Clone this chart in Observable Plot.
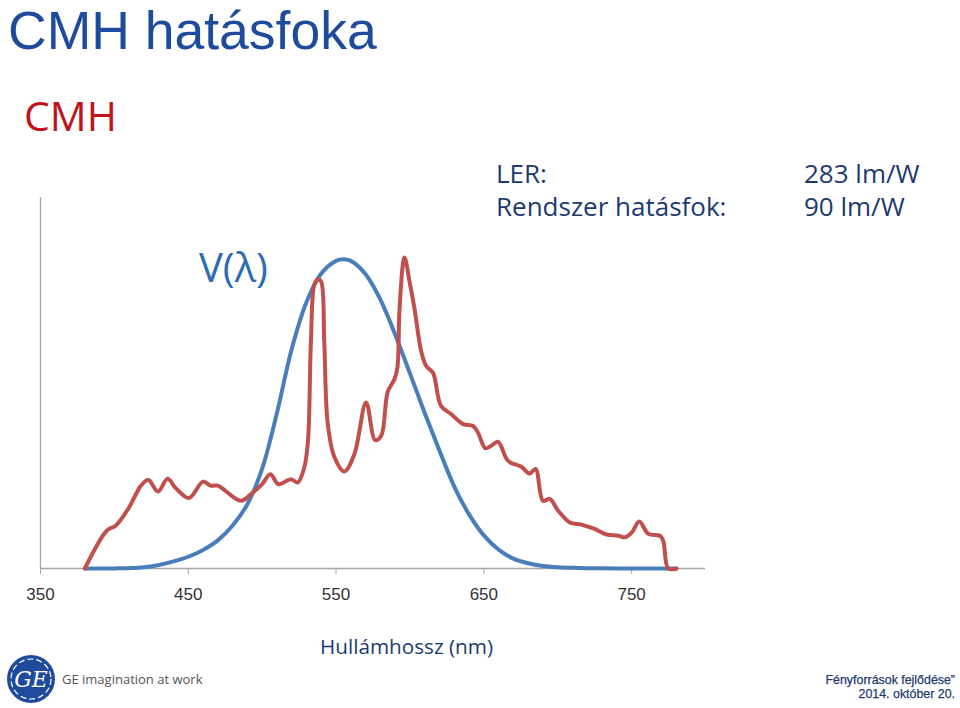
<!DOCTYPE html>
<html>
<head>
<meta charset="utf-8">
<script src="https://cdn.jsdelivr.net/npm/d3@7"></script>
<script src="https://cdn.jsdelivr.net/npm/@observablehq/plot@0.6"></script>
<style>
  html, body { margin: 0; padding: 0; background: #fff; }
  #page { position: relative; width: 960px; height: 708px; overflow: hidden; font-family: "Open Sans", "Noto Sans", sans-serif; }
  #chart { position: absolute; left: 0; top: 180px; }
  #overlay { position: absolute; left: 0; top: 0; }
</style>
</head>
<body>
<div id="page">
  <div id="chart"></div>
  <svg id="overlay" width="960" height="708" font-family="'Open Sans', 'Noto Sans', sans-serif">
    <text x="8" y="49" font-size="53.5" fill="#1f4b9c" font-family="'Liberation Sans', Arial, sans-serif">CMH hatásfoka</text>
    <text x="24" y="131" font-size="41" fill="#c0141c">CMH</text>
    <text x="496" y="183" font-size="26" fill="#1c3a70">LER:</text>
    <text x="496" y="216" font-size="26" fill="#1c3a70">Rendszer hatásfok:</text>
    <text x="804" y="183" font-size="26" fill="#1c3a70">283 lm/W</text>
    <text x="804" y="216" font-size="26" fill="#1c3a70">90 lm/W</text>
    <text x="199" y="282" font-size="40" fill="#2b6cb5">V(λ)</text>
    <text x="320" y="654" font-size="20.7" fill="#1c3a70">Hullámhossz (nm)</text>
    <g>
      <circle cx="31" cy="679" r="24" fill="#1f4b9c"/>
      <circle cx="31" cy="679" r="20" fill="none" stroke="#fff" stroke-width="1.2" stroke-dasharray="6 3"/>
      <text x="31" y="687" font-size="22" fill="#fff" text-anchor="middle" font-style="italic" font-family="'DejaVu Serif', serif">GE</text>
    </g>
    <text x="62" y="684" font-size="13" fill="#555">GE imagination at work</text>
    <g font-family="'Liberation Sans', Arial, sans-serif" font-size="12.4" fill="#1c3a70" text-anchor="end" stroke="#1c3a70" stroke-width="0.25">
      <text x="955" y="684">Fényforrások fejlődése”</text>
      <text x="955" y="698">2014. október 20.</text>
    </g>
  </svg>
</div>
<script>
// Wavelength ticks (nm)
const xTicks = [350, 450, 550, 650, 750];

// CMH lamp spectrum (red), relative units
const cmhLambda = [380, 395, 401, 410, 418, 423, 429.5, 436, 441.5, 450.5, 460, 465, 470, 485.5, 492.5, 500, 505.5, 511, 519.5, 524, 528.5, 531, 533, 535.3, 537.6, 539.8, 542, 544.4, 549, 555.6, 562.4, 570.3, 576.5, 580.5, 585, 589.5, 591.5, 593, 596.3, 599.7, 603, 607.6, 611, 615.6, 621, 628, 636, 642.7, 646, 651, 655, 659.6, 666.4, 675.4, 681, 685, 690, 694.6, 700.3, 708.2, 716, 725, 733, 741, 745.5, 750.2, 755.2, 761.3, 769.2, 771.4, 774.8, 780.5];
const cmhValue  = [0, 0.123, 0.139, 0.198, 0.268, 0.286, 0.249, 0.290, 0.260, 0.228, 0.281, 0.268, 0.268, 0.219, 0.241, 0.273, 0.305, 0.273, 0.289, 0.278, 0.327, 0.413, 0.735, 0.918, 0.935, 0.929, 0.735, 0.467, 0.359, 0.314, 0.370, 0.537, 0.415, 0.429, 0.572, 0.612, 0.649, 0.843, 1.006, 0.929, 0.843, 0.703, 0.655, 0.633, 0.526, 0.499, 0.467, 0.461, 0.440, 0.389, 0.397, 0.410, 0.348, 0.329, 0.307, 0.322, 0.219, 0.225, 0.187, 0.149, 0.142, 0.128, 0.110, 0.106, 0.101, 0.117, 0.152, 0.112, 0.106, 0.090, 0.0, 0.0];

// V(λ) eye sensitivity curve (blue)
const vLambda = [380, 390, 400, 410, 420, 430, 440, 450, 460, 470, 480, 490, 500, 510, 520, 530, 540, 550, 555, 560, 570, 580, 590, 600, 610, 620, 630, 640, 650, 660, 670, 680, 690, 700, 710, 720, 730, 740, 750, 760, 770, 780];
const vValue  = [0.00004, 0.00012, 0.0004, 0.0012, 0.004, 0.0116, 0.023, 0.038, 0.060, 0.091, 0.139, 0.208, 0.323, 0.503, 0.710, 0.862, 0.954, 0.995, 1.0, 0.995, 0.952, 0.870, 0.757, 0.631, 0.503, 0.381, 0.265, 0.175, 0.107, 0.061, 0.032, 0.017, 0.0082, 0.0041, 0.0021, 0.00105, 0.00052, 0.00025, 0.00012, 0.00006, 0.00003, 0.000015];

const cmh = cmhLambda.map((x, i) => ({x, y: cmhValue[i]}));
const vl = vLambda.map((x, i) => ({x, y: vValue[i]}));

const chart = Plot.plot({
  width: 720,
  height: 428,
  marginLeft: 40,
  marginRight: 15,
  marginTop: 17,
  marginBottom: 40,
  style: {fontFamily: "'Liberation Sans', Arial, sans-serif", fontSize: "17px", color: "#333", background: "transparent"},
  x: {domain: [350, 800]},
  y: {domain: [0, 1.2], axis: null},
  marks: [
    Plot.ruleX([350], {y1: 0, y2: 1.2, stroke: "#a6a6a6", strokeWidth: 1.3}),
    Plot.ruleY([0], {stroke: "#a6a6a6", strokeWidth: 1.3}),
    Plot.axisX({ticks: xTicks, tickSize: 6, tickPadding: 13, stroke: "#a6a6a6", fill: "#333", label: null, tickFormat: d => String(d)}),
    Plot.line(vl, {x: "x", y: "y", stroke: "#4a7ebb", strokeWidth: 4, curve: "catmull-rom"}),
    Plot.line(cmh, {x: "x", y: "y", stroke: "#c0504d", strokeWidth: 4, curve: "catmull-rom"})
  ]
});
document.getElementById("chart").appendChild(chart);
</script>
</body>
</html>
